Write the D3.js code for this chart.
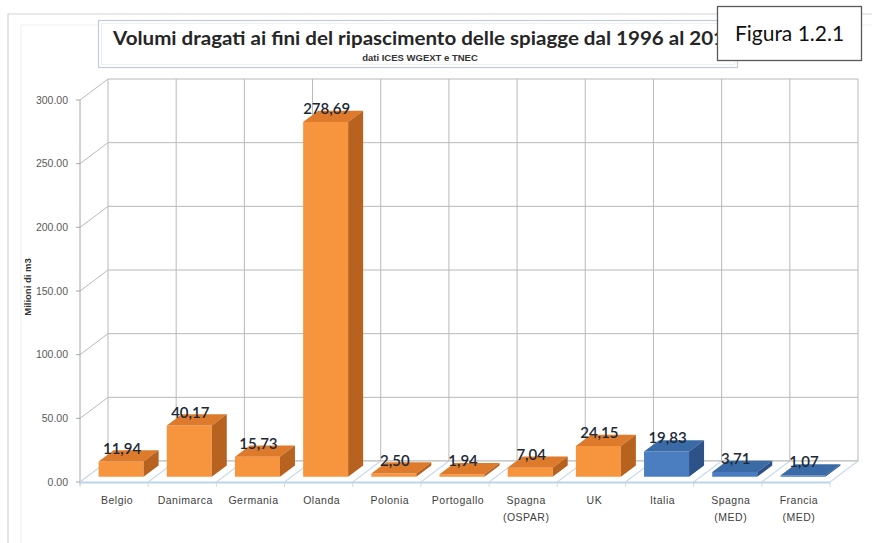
<!DOCTYPE html>
<html>
<head>
<meta charset="utf-8">
<script src="https://cdn.jsdelivr.net/npm/d3@7"></script>
<style>
  html, body { margin: 0; padding: 0; background: #ffffff; }
  svg { display: block; }
</style>
</head>
<body>
<svg id="chart" width="872" height="543"></svg>
<script>
// ---------------- data ----------------
const categories = ["Belgio", "Danimarca", "Germania", "Olanda", "Polonia", "Portogallo",
                    "Spagna\n(OSPAR)", "UK", "Italia", "Spagna\n(MED)", "Francia\n(MED)"];
const values = [11.94, 40.17, 15.73, 278.69, 2.50, 1.94, 7.04, 24.15, 19.83, 3.71, 1.07];
const seaArea = ["ATL", "ATL", "ATL", "ATL", "ATL", "ATL", "ATL", "ATL", "MED", "MED", "MED"];
const yTicks = [0, 50, 100, 150, 200, 250, 300];
const titleText = "Volumi dragati ai fini del ripascimento delle spiagge dal 1996 al 201";
const subtitleText = "dati ICES WGEXT  e TNEC";
const yAxisTitle = "Milioni di m3";
const figureLabel = "Figura 1.2.1";

// ---------------- layout ----------------
const svg = d3.select("#chart");
const X0 = 80, X1 = 830;          // front plane x range
const DX = 28, DY = -21;          // full depth offset
const z0 = 0.25, z1 = 0.786;      // bar depth extent
const gridColor = "#b9b9b9";

const x = d3.scaleBand().domain(d3.range(categories.length)).range([X0, X1]).paddingInner(0).paddingOuter(0);
const y = d3.scaleLinear().domain([0, 300]).range([482, 100]);
const barW = 45;

const palette = {
  ATL: { front: "#f7953f", top: "#de7a2b", side: "#b8621f" },
  MED: { front: "#4a7ec0", top: "#3b6ba6", side: "#2c5288" }
};

// outer chart frame
svg.append("path").attr("d", "M8,560 L8,14 L880,14").attr("fill", "none").attr("stroke", "#d4d4d4").attr("stroke-width", 1.2);
svg.append("path").attr("d", "M21,560 L21,25 L880,25").attr("fill", "none").attr("stroke", "#efefef").attr("stroke-width", 1);

// back wall gridlines
const g = svg.append("g");
yTicks.forEach(t => {
  g.append("line").attr("x1", X0 + DX).attr("x2", X1 + DX)
    .attr("y1", y(t) + DY).attr("y2", y(t) + DY)
    .attr("stroke", gridColor).attr("stroke-width", 1);
  g.append("line").attr("x1", X0).attr("y1", y(t)).attr("x2", X0 + DX).attr("y2", y(t) + DY)
    .attr("stroke", gridColor).attr("stroke-width", 1);
});
d3.range(categories.length + 1).forEach(i => {
  const xv = X0 + i * x.bandwidth() + DX;
  g.append("line").attr("x1", xv).attr("x2", xv)
    .attr("y1", y(300) + DY).attr("y2", y(0) + DY)
    .attr("stroke", gridColor).attr("stroke-width", 1);
});
g.append("line").attr("x1", X0).attr("x2", X0).attr("y1", y(300)).attr("y2", y(0) + 3)
  .attr("stroke", "#a6a6a6").attr("stroke-width", 1);
yTicks.forEach(t => {
  g.append("line").attr("x1", X0 - 4).attr("x2", X0).attr("y1", y(t)).attr("y2", y(t))
    .attr("stroke", "#a6a6a6");
});

// floor
const floor = svg.append("g");
floor.append("path")
  .attr("d", `M${X0},${y(0)} L${X1},${y(0)} L${X1 + DX},${y(0) + DY} L${X0 + DX},${y(0) + DY} Z`)
  .attr("fill", "#ffffff").attr("stroke", "none");
d3.range(categories.length + 1).forEach(i => {
  const xv = X0 + i * x.bandwidth();
  floor.append("line").attr("x1", xv).attr("y1", y(0)).attr("x2", xv + DX).attr("y2", y(0) + DY)
    .attr("stroke", "#c9dbea").attr("stroke-width", 1.2);
  floor.append("line").attr("x1", xv).attr("y1", y(0)).attr("x2", xv).attr("y2", y(0) + 5)
    .attr("stroke", "#d9d9d9").attr("stroke-width", 1);
});
floor.append("line").attr("x1", X0).attr("x2", X1).attr("y1", y(0) + 0.5).attr("y2", y(0) + 0.5)
  .attr("stroke", "#bcd4ea").attr("stroke-width", 2);
floor.append("line").attr("x1", X0 + DX).attr("x2", X1 + DX).attr("y1", y(0) + DY).attr("y2", y(0) + DY)
  .attr("stroke", gridColor).attr("stroke-width", 1);

// bars
const bars = svg.append("g");
const sdx = (z1 - z0) * DX, sdy = (z1 - z0) * DY;
values.forEach((v, i) => {
  const c = palette[seaArea[i]];
  const xl = x(i) + (x.bandwidth() - barW) / 2 + z0 * DX;
  const xr = xl + barW;
  const yb = y(0) + z0 * DY;
  const yt = y(v) + z0 * DY;
  const gb = bars.append("g");
  gb.append("path").attr("d", `M${xl},${yt} L${xr},${yt} L${xr},${yb} L${xl},${yb} Z`).attr("fill", c.front);
  gb.append("path").attr("d", `M${xl},${yt} L${xr},${yt} L${xr + sdx},${yt + sdy} L${xl + sdx},${yt + sdy} Z`).attr("fill", c.top);
  gb.append("path").attr("d", `M${xr},${yt} L${xr + sdx},${yt + sdy} L${xr + sdx},${yb + sdy} L${xr},${yb} Z`).attr("fill", c.side);
});

// value labels
const fmt = d3.format(".2f");
values.forEach((v, i) => {
  const xl = x(i) + (x.bandwidth() - barW) / 2 + z0 * DX;
  const yt = y(v) + z0 * DY;
  svg.append("text")
    .attr("x", xl + barW / 2 + 1).attr("y", yt - 8)
    .attr("text-anchor", "middle")
    .attr("font-family", "Lato, 'Liberation Sans', sans-serif")
    .attr("font-size", 15).attr("font-weight", 600).attr("fill", "#1c2836")
    .text(fmt(v).replace(".", ","));
});

// y tick labels
yTicks.forEach(t => {
  svg.append("text")
    .attr("x", 68).attr("y", y(t) + 3.5)
    .attr("text-anchor", "end")
    .attr("font-family", "'Liberation Sans', Arial, sans-serif")
    .attr("font-size", 10.5).attr("fill", "#5a5a5a")
    .text(fmt(t));
});

// y axis title
svg.append("text")
  .attr("transform", "translate(31,287) rotate(-90)")
  .attr("text-anchor", "middle")
  .attr("font-family", "'Liberation Sans', Arial, sans-serif")
  .attr("font-size", 9.5).attr("font-weight", "bold").attr("fill", "#333333")
  .text(yAxisTitle);

// category labels
categories.forEach((c, i) => {
  const t = svg.append("text")
    .attr("text-anchor", "middle")
    .attr("font-family", "'Liberation Sans', Arial, sans-serif")
    .attr("font-size", 10.5).attr("fill", "#404040")
    .attr("letter-spacing", 0.5);
  c.split("\n").forEach((line, k) => {
    t.append("tspan").attr("x", x(i) + x.bandwidth() / 2 + 3).attr("y", 504 + k * 17).text(line);
  });
});

// title box
svg.append("rect").attr("x", 98.5).attr("y", 20.5).attr("width", 639).attr("height", 47)
  .attr("fill", "#ffffff").attr("stroke", "#c3ccd3").attr("stroke-width", 1.2);
svg.append("rect").attr("x", 101.5).attr("y", 23.5).attr("width", 633).attr("height", 41)
  .attr("fill", "none").attr("stroke", "#eef1f3").attr("stroke-width", 1);
svg.append("text")
  .attr("x", 113).attr("y", 45)
  .attr("font-family", "Lato, 'Liberation Sans', sans-serif")
  .attr("font-weight", "bold").attr("font-size", 18).attr("fill", "#262626")
  .attr("textLength", 612).attr("lengthAdjust", "spacingAndGlyphs")
  .text(titleText);
svg.append("text")
  .attr("x", 420).attr("y", 61)
  .attr("text-anchor", "middle")
  .attr("font-family", "'Liberation Sans', Arial, sans-serif")
  .attr("font-weight", "bold").attr("font-size", 9.5).attr("fill", "#333333")
  .text(subtitleText);

// figure label box
svg.append("rect").attr("x", 717.5).attr("y", 6.5).attr("width", 144).attr("height", 54)
  .attr("fill", "#ffffff").attr("stroke", "#5a5a5a").attr("stroke-width", 1.3);
svg.append("text")
  .attr("x", 789.5).attr("y", 41)
  .attr("text-anchor", "middle")
  .attr("font-family", "Lato, 'Liberation Sans', sans-serif")
  .attr("font-size", 21).attr("fill", "#111111")
  .text(figureLabel);
</script>
</body>
</html>
